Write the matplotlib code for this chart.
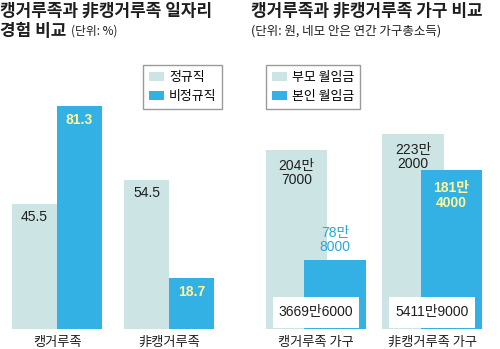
import matplotlib.pyplot as plt
import numpy as np
from matplotlib.patches import Rectangle

plt.rcParams['font.family'] = ['Liberation Sans', 'Noto Sans CJK KR', 'DejaVu Sans']

# left chart: job experience (%)
job_groups = ['캥거루족', '非캥거루족']
regular = [45.5, 54.5]
irregular = [81.3, 18.7]
job_series = ['정규직', '비정규직']

# right chart: household income (만원)
house_groups = ['캥거루족 가구', '非캥거루족 가구']
parent_wage = [204.7, 223.2]
own_wage = [78.8, 181.4]
parent_labels = ['204만\n7000', '223만\n2000']
own_labels = ['78만\n8000', '181만\n4000']
annual_income = ['3669만6000', '5411만9000']
house_series = ['부모 월임금', '본인 월임금']

LIGHT = '#cde4e4'
BLUE = '#33b1e4'
YELLOW = '#fff79c'
DARK = '#1e1e1e'
CJK = ['Noto Sans CJK KR', 'DejaVu Sans']

W, H = 500, 349
fig = plt.figure(figsize=(5, 3.49), dpi=100)

legend_kw = dict(bbox_transform=fig.transFigure, loc='upper left',
                 fancybox=False, edgecolor='#9a9a9a', framealpha=1,
                 prop=dict(family=CJK, size=9.3, weight='medium'),
                 handlelength=1.2, handleheight=0.75, handletextpad=0.35, borderpad=0.45,
                 labelspacing=0.5, borderaxespad=0)

# ---- left chart
ax1 = fig.add_axes([1 / W, 20 / H, 224 / W, 329 / H])
x = np.arange(len(job_groups))
bw = 0.4
ax1.bar(x - bw / 2, regular, bw, color=LIGHT, label=job_series[0])
ax1.bar(x + bw / 2, irregular, bw, color=BLUE, label=job_series[1])
ax1.set_xlim(-0.5, 1.5)
ax1.set_ylim(0, 329 / 2.74)
for xi, v in zip(x - bw / 2, regular):
    ax1.annotate(f'{v}', (xi, v), xytext=(0, -13), textcoords='offset pixels',
                 ha='center', va='center', fontsize=10, color=DARK)
for xi, v in zip(x + bw / 2, irregular):
    ax1.annotate(f'{v}', (xi, v), xytext=(0, -14), textcoords='offset pixels',
                 ha='center', va='center', fontsize=10, color=YELLOW, fontweight='bold')
ax1.set_xticks(x, job_groups, fontsize=9.5, color=DARK, family=CJK, fontweight='medium')
ax1.tick_params(length=0, pad=5)
ax1.set_yticks([])
for s in ax1.spines.values():
    s.set_visible(False)
ax1.patch.set_visible(False)
ax1.legend(bbox_to_anchor=(143 / W, 1 - 65 / H), **legend_kw)

# ---- right chart
ax2 = fig.add_axes([257.5 / W, 20 / H, 233 / W, 329 / H])
x = np.arange(len(house_groups))
bw = 0.53
off = 0.165
ax2.bar(x - off, parent_wage, bw, color=LIGHT, label=house_series[0])
ax2.bar(x + off, own_wage, bw, color=BLUE, label=house_series[1])
ax2.set_xlim(-0.5, 1.5)
ax2.set_ylim(0, 329 / 0.875)
for xi, v, t in zip(x - off, parent_wage, parent_labels):
    ax2.annotate(t, (xi, v), xytext=(0, -9), textcoords='offset pixels',
                 ha='center', va='top', fontsize=10, color=DARK, linespacing=1.05)
own_colors = ['#2aa6dd', YELLOW]
own_off = [(6, 'bottom'), (-11, 'top')]
for xi, v, t, c, (dy, va) in zip(x + off, own_wage, own_labels, own_colors, own_off):
    ax2.annotate(t, (xi, v), xytext=(0, dy), textcoords='offset pixels',
                 ha='center', va=va, fontsize=10, color=c, linespacing=1.05,
                 fontweight='bold' if c == YELLOW else 'normal')
for xi, t in zip(x, annual_income):
    ax2.add_patch(Rectangle((xi - 0.37, 1.2), 0.74, 35.4, facecolor='white', edgecolor='none'))
    ax2.text(xi, 1.2 + 17.7, t, ha='center', va='center', fontsize=10, color=DARK)
ax2.set_xticks(x, house_groups, fontsize=9.5, color=DARK, family=CJK, fontweight='medium')
ax2.tick_params(length=0, pad=5)
ax2.set_yticks([])
for s in ax2.spines.values():
    s.set_visible(False)
ax2.patch.set_visible(False)
ax2.legend(bbox_to_anchor=(266 / W, 1 - 65 / H), **legend_kw)

# ---- titles
tfont = dict(fontsize=12.2, fontweight='heavy', color=DARK, family=CJK)
fig.text(0, 1 - 11 / H, '캥거루족과 非캥거루족 일자리', va='center', ha='left', **tfont)
t2 = fig.text(0, 1 - 31 / H, '경험 비교', va='center', ha='left', **tfont)
ax1.annotate('(단위: %)', xy=(1, 0.5), xycoords=t2, xytext=(3, 0), textcoords='offset points',
             va='center', ha='left', fontsize=8.5, color=DARK, annotation_clip=False, family=CJK)
fig.text(251 / W, 1 - 11 / H, '캥거루족과 非캥거루족 가구 비교', va='center', ha='left', **tfont)
fig.text(251 / W, 1 - 31 / H, '(단위: 원, 네모 안은 연간 가구총소득)', va='center', ha='left',
         fontsize=9, color=DARK, family=CJK)

fig.savefig('out.png', dpi=100)
